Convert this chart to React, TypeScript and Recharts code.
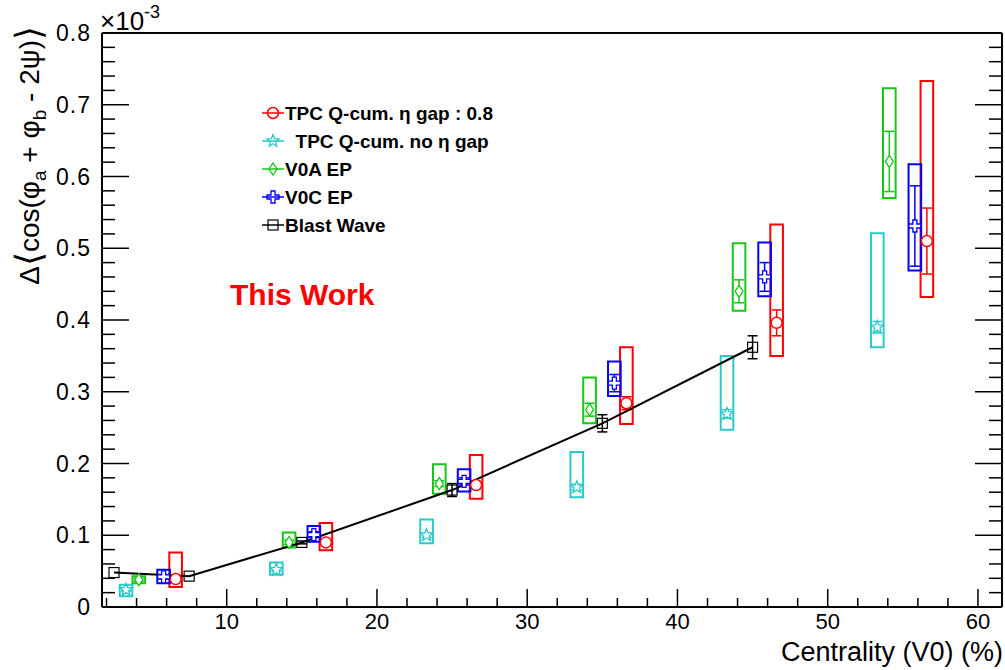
import React from 'react';
import { ScatterChart, Scatter, XAxis, YAxis, ErrorBar, ReferenceArea } from 'recharts';

// axis ticks (minor + major) and the labelled ones
const X_TICKS = [2, 4, 6, 8, 10, 12, 14, 16, 18, 20, 22, 24, 26, 28, 30, 32, 34, 36, 38, 40, 42, 44, 46, 48, 50, 52, 54, 56, 58, 60];
const X_LABELS = [10, 20, 30, 40, 50, 60];
const Y_TICKS = [
    0, 0.02, 0.04, 0.06, 0.08, 0.1, 0.12, 0.14, 0.16, 0.18, 0.2, 0.22, 0.24, 0.26, 0.28, 0.3, 0.32, 0.34, 0.36, 0.38, 0.4,
    0.42, 0.44, 0.46, 0.48, 0.5, 0.52, 0.54, 0.56, 0.58, 0.6, 0.62, 0.64, 0.66, 0.68, 0.7, 0.72, 0.74, 0.76, 0.78, 0.8,
];
const Y_LABELS = [0, 0.1, 0.2, 0.3, 0.4, 0.5, 0.6, 0.7, 0.8];

// TPC Q-cum. eta gap 0.8
const GAP_X = [6.6, 16.6, 26.6, 36.6, 46.6, 56.6];
const GAP_Y = [0.039, 0.09, 0.17, 0.284, 0.396, 0.51];
const GAP_STAT = [0.004, 0.004, 0.005, 0.009, 0.018, 0.046];
const GAP_SYS_LO = [0.028, 0.079, 0.151, 0.255, 0.35, 0.432];
const GAP_SYS_HI = [0.076, 0.117, 0.212, 0.362, 0.533, 0.733];

// TPC Q-cum. no eta gap
const NOGAP_X = [3.3, 13.3, 23.3, 33.3, 43.3, 53.3];
const NOGAP_Y = [0.024, 0.052, 0.1, 0.167, 0.269, 0.39];
const NOGAP_STAT = [0.002, 0.002, 0.003, 0.004, 0.006, 0.008];
const NOGAP_SYS_LO = [0.015, 0.045, 0.089, 0.153, 0.247, 0.362];
const NOGAP_SYS_HI = [0.031, 0.062, 0.122, 0.216, 0.35, 0.521];

// V0A EP
const V0A_X = [4.15, 14.15, 24.15, 34.15, 44.1, 54.1];
const V0A_Y = [0.038, 0.09, 0.172, 0.275, 0.44, 0.621];
const V0A_STAT = [0.002, 0.003, 0.004, 0.009, 0.016, 0.042];
const V0A_SYS_LO = [0.033, 0.083, 0.158, 0.256, 0.413, 0.57];
const V0A_SYS_HI = [0.043, 0.104, 0.199, 0.32, 0.507, 0.723];

// V0C EP
const V0C_X = [5.8, 15.8, 25.8, 35.8, 45.8, 55.8];
const V0C_Y = [0.042, 0.101, 0.175, 0.312, 0.46, 0.531];
const V0C_STAT = [0.003, 0.004, 0.005, 0.012, 0.02, 0.056];
const V0C_SYS_LO = [0.033, 0.091, 0.161, 0.294, 0.433, 0.469];
const V0C_SYS_HI = [0.052, 0.113, 0.192, 0.342, 0.508, 0.617];

// Blast Wave
const BW_X = [2.5, 7.5, 15, 25, 35, 45];
const BW_Y = [0.048, 0.043, 0.09, 0.163, 0.256, 0.362];
const BW_STAT = [0, 0, 0.002, 0.009, 0.012, 0.016];

const RED = '#ff0000';
const CYAN = '#2acaca';
const GREEN = '#14c814';
const BLUE = '#0000ff';
const BLACK = '#000000';
const FONT = '"Liberation Sans", Arial, Helvetica, sans-serif';
const BOX_HALF = 0.42;

const rows = (xs: number[], ys: number[], errs: number[]) => xs.map((x, i) => ({ x, y: ys[i], err: errs[i] }));

const SERIES = [
    { name: 'TPC Q-cum. \u03b7 gap : 0.8', color: RED, shape: 'circle', data: rows(GAP_X, GAP_Y, GAP_STAT), lo: GAP_SYS_LO, hi: GAP_SYS_HI },
    { name: '\u00a0\u00a0TPC Q-cum. no \u03b7 gap', color: CYAN, shape: 'star', data: rows(NOGAP_X, NOGAP_Y, NOGAP_STAT), lo: NOGAP_SYS_LO, hi: NOGAP_SYS_HI },
    { name: 'V0A EP', color: GREEN, shape: 'diamond', data: rows(V0A_X, V0A_Y, V0A_STAT), lo: V0A_SYS_LO, hi: V0A_SYS_HI },
    { name: 'V0C EP', color: BLUE, shape: 'cross', data: rows(V0C_X, V0C_Y, V0C_STAT), lo: V0C_SYS_LO, hi: V0C_SYS_HI },
];
const BLAST = { name: 'Blast Wave', color: BLACK, shape: 'square', data: rows(BW_X, BW_Y, BW_STAT) };

function starPath(cx: number, cy: number, ro: number, ri: number) {
    const pts: string[] = [];
    for (let i = 0; i < 10; i++) {
        const r = i % 2 === 0 ? ro : ri;
        const a = -Math.PI / 2 + (i * Math.PI) / 5;
        pts.push(`${(cx + r * Math.cos(a)).toFixed(2)},${(cy + r * Math.sin(a)).toFixed(2)}`);
    }
    return `M${pts.join('L')}Z`;
}

function Marker({ shape, cx, cy, color, fill }: { shape: string; cx: number; cy: number; color: string; fill: string }) {
    if (cx == null || cy == null) return null;
    switch (shape) {
        case 'circle':
            return <circle cx={cx} cy={cy} r={5.5} fill={fill} stroke={color} strokeWidth={1.5} />;
        case 'star':
            return <path d={starPath(cx, cy, 6.5, 2.8)} fill={fill} stroke={color} strokeWidth={1.3} />;
        case 'diamond':
            return (
                <path
                    d={`M${cx},${cy - 6}L${cx + 4},${cy}L${cx},${cy + 6}L${cx - 4},${cy}Z`}
                    fill={fill}
                    stroke={color}
                    strokeWidth={1.3}
                />
            );
        case 'cross': {
            const a = 6;
            const t = 2;
            return (
                <path
                    d={`M${cx - t},${cy - a}H${cx + t}V${cy - t}H${cx + a}V${cy + t}H${cx + t}V${cy + a}H${cx - t}V${cy + t}H${cx - a}V${cy - t}H${cx - t}Z`}
                    fill={fill}
                    stroke={color}
                    strokeWidth={1.3}
                />
            );
        }
        default:
            return <rect x={cx - 5} y={cy - 5} width={10} height={10} fill={fill} stroke={color} strokeWidth={1.2} />;
    }
}

const isIn = (list: number[], v: number) => list.some((t) => Math.abs(t - v) < 1e-6);

function BottomTick({ x, y, payload }: any) {
    const major = isIn(X_LABELS, payload.value);
    return (
        <g>
            <line x1={x} x2={x} y1={y} y2={y - (major ? 18 : 9)} stroke="#000" strokeWidth={1.5} />
            {major && (
                <text x={x} y={y + 22} textAnchor="middle" fontSize={22} fontFamily={FONT} fill="#000">
                    {payload.value}
                </text>
            )}
        </g>
    );
}

function TopTick({ x, y, payload }: any) {
    const major = isIn(X_LABELS, payload.value);
    return <line x1={x} x2={x} y1={y} y2={y + (major ? 18 : 9)} stroke="#000" strokeWidth={1.5} />;
}

function LeftTick({ x, y, payload }: any) {
    const major = isIn(Y_LABELS, payload.value);
    const v = payload.value as number;
    return (
        <g>
            <line x1={x} x2={x + (major ? 27 : 13)} y1={y} y2={y} stroke="#000" strokeWidth={1.5} />
            {major && (
                <text x={x - 11} y={y + 8} textAnchor="end" fontSize={23} fontFamily={FONT} letterSpacing={1} fill="#000">
                    {v === 0 ? '0' : v.toFixed(1)}
                </text>
            )}
        </g>
    );
}

function RightTick({ x, y, payload }: any) {
    const major = isIn(Y_LABELS, payload.value);
    return <line x1={x} x2={x - (major ? 27 : 13)} y1={y} y2={y} stroke="#000" strokeWidth={1.5} />;
}

function Overlay() {
    const legendRows = [...SERIES, BLAST];
    return (
        <svg
            width={1005}
            height={670}
            style={{ position: 'absolute', left: 0, top: 0, pointerEvents: 'none' }}
        >
            {/* exponent */}
            <text x={100} y={30} fontSize={26} fontFamily={FONT} fill="#000">
                {'\u00d710'}
                <tspan fontSize={18} dy={-12}>
                    -3
                </tspan>
            </text>
            {/* y title */}
            <text
                transform="translate(39,26) rotate(-90)"
                textAnchor="end"
                fontSize={28}
                fontFamily={FONT}
                fill="#000"
            >
                {'\u0394'}
                <tspan fontSize={36} dy={2}>{'\u27e8'}</tspan>
                <tspan fontSize={28} dy={-2}>{'cos(\u03c6'}</tspan>
                <tspan fontSize={19} dy={7}>
                    a
                </tspan>
                <tspan dy={-7}>{' + \u03c6'}</tspan>
                <tspan fontSize={19} dy={7}>
                    b
                </tspan>
                <tspan dy={-7}>{' - 2\u03c8)'}</tspan>
                <tspan fontSize={36} dy={2}>{'\u27e9'}</tspan>
            </text>
            {/* x title */}
            <text x={1003} y={661} textAnchor="end" fontSize={27} fontFamily={FONT} fill="#000">
                Centrality (V0) (%)
            </text>
            {/* this work */}
            <text x={230} y={305} fontSize={30} fontWeight="bold" fontFamily={FONT} fill={RED}>
                This Work
            </text>
            {/* legend */}
            {legendRows.map((s, i) => {
                const cy = 113 + i * 28;
                return (
                    <g key={s.name}>
                        <line x1={262} x2={284} y1={cy} y2={cy} stroke={s.color} strokeWidth={1.5} />
                        <Marker shape={s.shape} cx={273} cy={cy} color={s.color} fill="none" />
                        <text x={285} y={cy + 7} fontSize={19} fontWeight="bold" fontFamily={FONT} fill="#000">
                            {s.name}
                        </text>
                    </g>
                );
            })}
        </svg>
    );
}

const axisCommon = {
    allowDataOverflow: true,
    interval: 0 as const,
    tickSize: 0,
    tickMargin: 0,
    tickLine: false,
    axisLine: { stroke: '#000', strokeWidth: 2 },
};

export default function App() {
    return (
        <div style={{ position: 'absolute', left: 0, top: 0, width: 1005, height: 670, background: '#fff' }}>
            <ScatterChart width={1005} height={670} margin={{ top: 32, right: 2, bottom: 62, left: 101 }}>
                <XAxis
                    {...axisCommon}
                    type="number"
                    dataKey="x"
                    domain={[1.7, 61.6]}
                    ticks={X_TICKS}
                    height={1}
                    tick={(p: any) => <BottomTick {...p} />}
                />
                <XAxis
                    {...axisCommon}
                    xAxisId="top"
                    orientation="top"
                    type="number"
                    domain={[1.7, 61.6]}
                    ticks={X_TICKS}
                    height={1}
                    tick={(p: any) => <TopTick {...p} />}
                />
                <YAxis
                    {...axisCommon}
                    type="number"
                    dataKey="y"
                    domain={[0, 0.8]}
                    ticks={Y_TICKS}
                    width={1}
                    tick={(p: any) => <LeftTick {...p} />}
                />
                <YAxis
                    {...axisCommon}
                    yAxisId="right"
                    orientation="right"
                    type="number"
                    domain={[0, 0.8]}
                    ticks={Y_TICKS}
                    width={1}
                    tick={(p: any) => <RightTick {...p} />}
                />
                {SERIES.map((s) =>
                    s.data.map((d, i) => (
                        <ReferenceArea
                            key={`${s.name}-box-${i}`}
                            x1={d.x - BOX_HALF}
                            x2={d.x + BOX_HALF}
                            y1={s.lo[i]}
                            y2={s.hi[i]}
                            fill="none"
                            fillOpacity={0}
                            stroke={s.color}
                            strokeWidth={2}
                            ifOverflow="visible"
                        />
                    )),
                )}
                <Scatter
                    name={BLAST.name}
                    data={BLAST.data}
                    isAnimationActive={false}
                    line={{ stroke: BLACK, strokeWidth: 2 }}
                    lineType="joint"
                    shape={(p: any) => <Marker shape="square" cx={p.cx} cy={p.cy} color={BLACK} fill="none" />}
                >
                    <ErrorBar dataKey="err" direction="y" width={5} stroke={BLACK} strokeWidth={1.5} />
                </Scatter>
                {SERIES.map((s) => (
                    <Scatter
                        key={s.name}
                        name={s.name}
                        data={s.data}
                        isAnimationActive={false}
                        shape={(p: any) => <Marker shape={s.shape} cx={p.cx} cy={p.cy} color={s.color} fill="#fff" />}
                    >
                        <ErrorBar dataKey="err" direction="y" width={5} stroke={s.color} strokeWidth={1.5} />
                    </Scatter>
                ))}
            </ScatterChart>
            <Overlay />
        </div>
    );
}
